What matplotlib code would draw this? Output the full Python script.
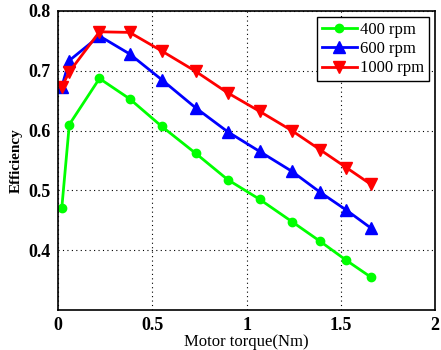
import matplotlib
matplotlib.use("Agg")
import matplotlib.pyplot as plt

torque = [0.02, 0.06, 0.22, 0.38, 0.55, 0.73, 0.90, 1.07, 1.24, 1.39, 1.53, 1.66]
eff_400 = [0.470, 0.610, 0.687, 0.653, 0.607, 0.562, 0.518, 0.485, 0.448, 0.415, 0.383, 0.355]
eff_600 = [0.673, 0.717, 0.758, 0.728, 0.685, 0.638, 0.598, 0.565, 0.532, 0.497, 0.467, 0.437]
eff_1000 = [0.673, 0.698, 0.765, 0.764, 0.733, 0.699, 0.663, 0.632, 0.600, 0.568, 0.538, 0.510]
labels = ["400 rpm", "600 rpm", "1000 rpm"]

plt.rcParams['font.family'] = ['Liberation Serif', 'DejaVu Serif']

fig = plt.figure(figsize=(4.41, 3.5), dpi=100)
ax = fig.add_axes([0.1315, 0.114, 0.855, 0.855])

ax.plot(torque, eff_400, color='#00ff00', lw=2, marker='o', ms=6, label=labels[0])
ax.plot(torque, eff_600, color='#0000ff', lw=2, marker='^', ms=8.5, label=labels[1])
ax.plot(torque, eff_1000, color='#ff0000', lw=2, marker='v', ms=8.5, label=labels[2])

ax.set_xlim(0, 2)
ax.set_ylim(0.3, 0.8)
ax.set_xticks([0, 0.5, 1, 1.5, 2])
ax.set_xticklabels(['0', '0.5', '1', '1.5', '2'])
ax.set_yticks([0.4, 0.5, 0.6, 0.7, 0.8])
ax.grid(True, color='black', linestyle=(0, (1, 3)), lw=0.8)
ax.tick_params(direction='in', labelsize=13, length=0, pad=5)
for t in ax.get_xticklabels() + ax.get_yticklabels():
    t.set_fontweight('bold')
for s in ax.spines.values():
    s.set_linewidth(1.2)

ax.set_xlabel("Motor torque(Nm)", fontsize=12, labelpad=0)
ax.set_ylabel("Efficiency", fontsize=11, fontweight='bold', labelpad=4)

leg = ax.legend(loc='upper right', fontsize=12, fancybox=False, framealpha=1,
                edgecolor='black', handlelength=2.1, borderpad=0.3,
                labelspacing=0.2, handletextpad=0.2, borderaxespad=0.35)
leg.get_frame().set_linewidth(1.0)

fig.savefig("out.png", dpi=100)
